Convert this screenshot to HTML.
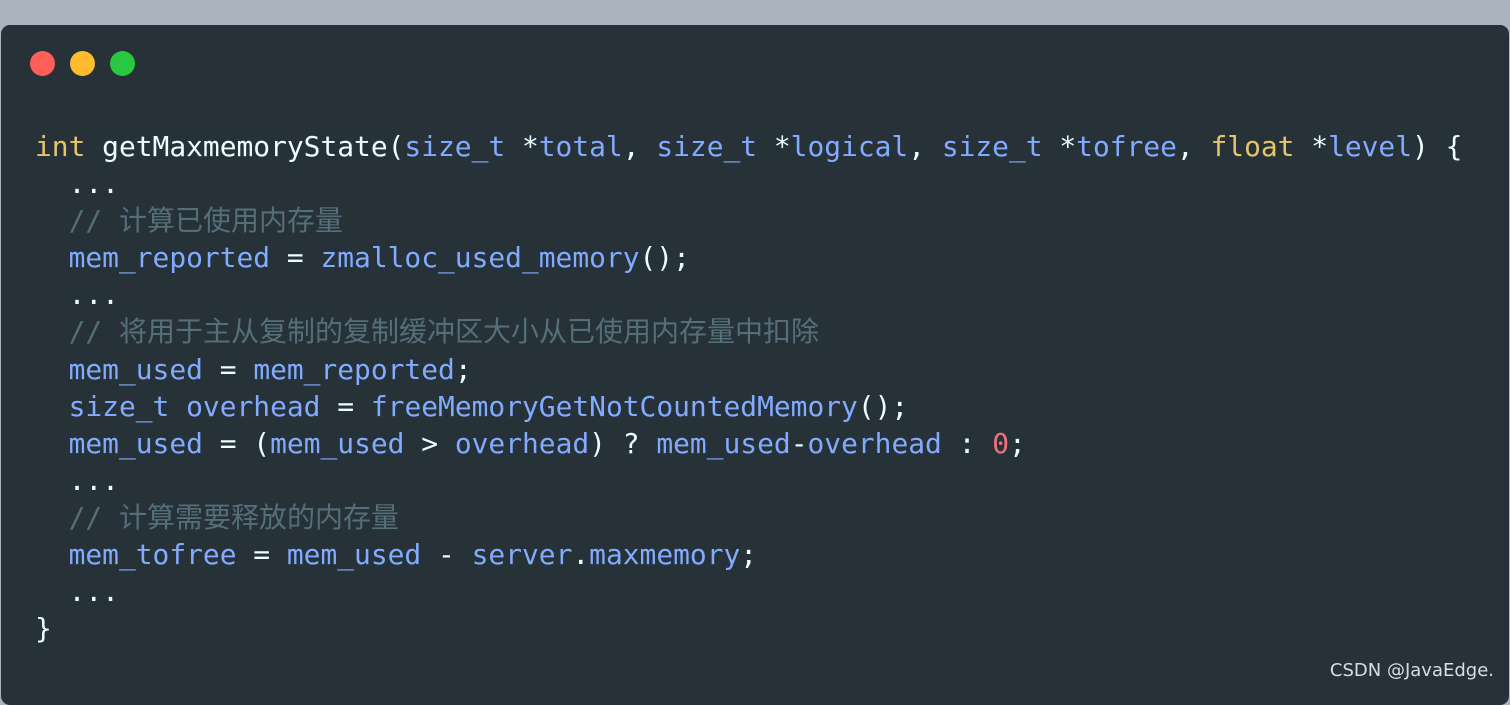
<!DOCTYPE html>
<html><head><meta charset="utf-8"><style>
body{margin:0;width:1510px;height:694px;background:#aab4bf;overflow:hidden;position:relative}
.p{position:absolute;left:1px;top:25px;width:1508px;height:680px;background:#263238;border-radius:9px}
.d{position:absolute;top:51px;width:25px;height:25px;border-radius:50%}
pre{position:absolute;left:35px;top:128px;margin:0;font-family:"DejaVu Sans Mono","Liberation Mono",monospace;font-size:27.9px;line-height:37.1px;color:#eeffff}
pre div{height:37.1px;white-space:pre}
.y{color:#e6c46a}.b{color:#82aaff}.c{color:#546e7a}.r{color:#f07178}
.c span{font-family:"Noto Sans CJK SC",sans-serif;font-size:28px;line-height:20px}
.w{position:absolute;right:16px;top:660px;font-family:"DejaVu Sans","Liberation Sans",sans-serif;font-size:18px;color:#d8dde0}
</style></head><body>
<div class="p"></div>
<div class="d" style="left:30px;background:#fe5f57"></div>
<div class="d" style="left:70px;background:#febc2e"></div>
<div class="d" style="left:110px;background:#28c840"></div>
<pre><div><span class="y">int</span> getMaxmemoryState(<span class="b">size_t</span> *<span class="b">total</span>, <span class="b">size_t</span> *<span class="b">logical</span>, <span class="b">size_t</span> *<span class="b">tofree</span>, <span class="y">float</span> *<span class="b">level</span>) {</div><div>  ...</div><div>  <span class="c">// <span>计算已使用内存量</span></span></div><div>  <span class="b">mem_reported</span> = <span class="b">zmalloc_used_memory</span>();</div><div>  ...</div><div>  <span class="c">// <span>将用于主从复制的复制缓冲区大小从已使用内存量中扣除</span></span></div><div>  <span class="b">mem_used</span> = <span class="b">mem_reported</span>;</div><div>  <span class="b">size_t</span> <span class="b">overhead</span> = <span class="b">freeMemoryGetNotCountedMemory</span>();</div><div>  <span class="b">mem_used</span> = (<span class="b">mem_used</span> &gt; <span class="b">overhead</span>) ? <span class="b">mem_used</span>-<span class="b">overhead</span> : <span class="r">0</span>;</div><div>  ...</div><div>  <span class="c">// <span>计算需要释放的内存量</span></span></div><div>  <span class="b">mem_tofree</span> = <span class="b">mem_used</span> - <span class="b">server</span>.<span class="b">maxmemory</span>;</div><div>  ...</div><div>}</div></pre>
<div class="w">CSDN @JavaEdge.</div>
</body></html>
